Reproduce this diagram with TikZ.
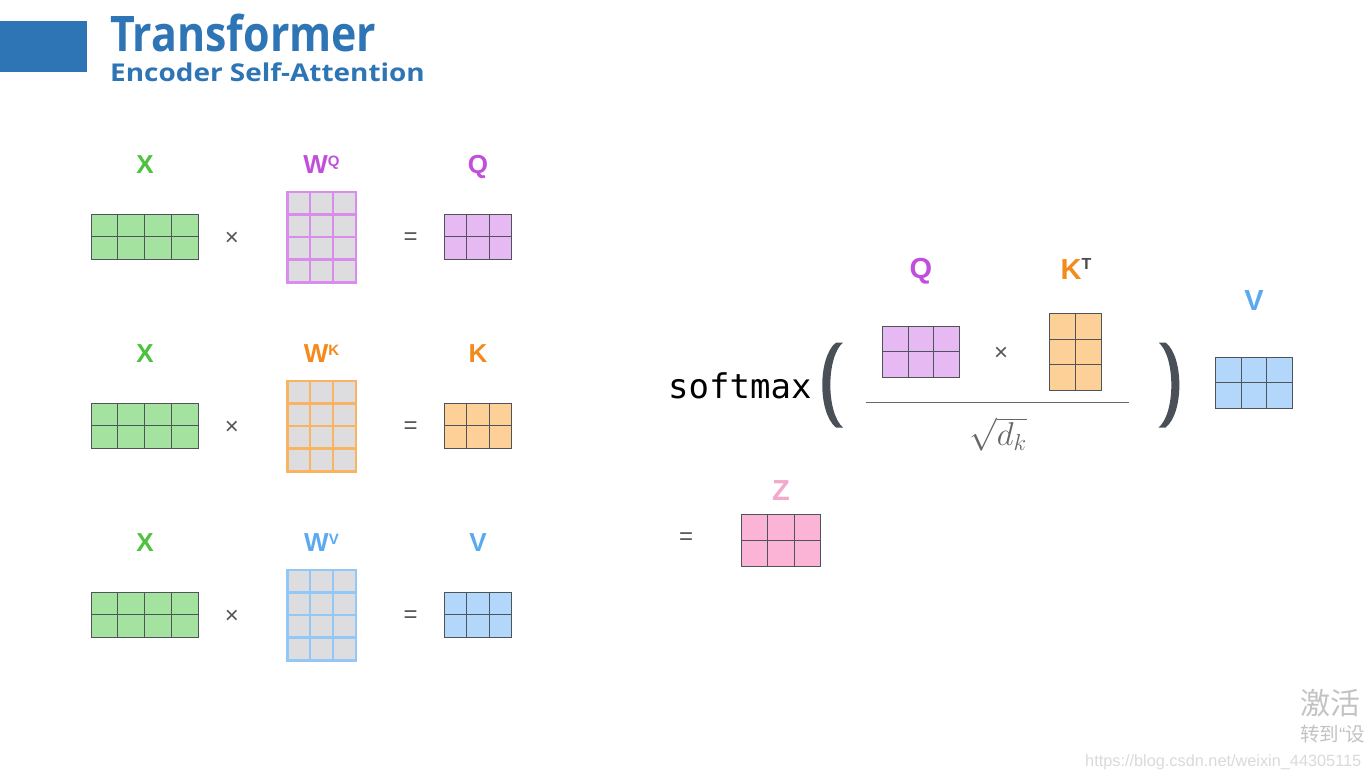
\RequirePackage{fix-cm}
\documentclass[tikz,border=0pt]{standalone}
\usepackage{xcolor}
\usepackage{amsmath}
\usepackage{fontspec}
\setmainfont{Liberation Sans}
\newfontfamily\titlefont{Open Sans}[FakeStretch=0.875]
\newfontfamily\subtitlefont{Open Sans}[FakeStretch=1.14]
\newfontfamily\codefont{DejaVu Sans Mono}
\newfontfamily\cjkfont{Noto Sans CJK SC}
\usepackage{tikz}
\usetikzlibrary{calc}
\definecolor{headblue}{HTML}{2E75B6}
\definecolor{xgreen}{HTML}{4DC23E}
\definecolor{xfill}{HTML}{A3E29F}
\definecolor{qviolet}{HTML}{C24FDC}
\definecolor{qfill}{HTML}{E6B9F3}
\definecolor{qline}{HTML}{D98CEC}
\definecolor{korange}{HTML}{F58A1C}
\definecolor{kfill}{HTML}{FDD098}
\definecolor{kline}{HTML}{F8B462}
\definecolor{vblue}{HTML}{5AA9F1}
\definecolor{vfill}{HTML}{B3D7FA}
\definecolor{vline}{HTML}{93C7F5}
\definecolor{zpink}{HTML}{F5A8CE}
\definecolor{zfill}{HTML}{FBB3D6}
\definecolor{wgray}{HTML}{DDDDDF}
\definecolor{matline}{HTML}{4F535A}
\definecolor{opgray}{HTML}{555555}
\definecolor{parengray}{HTML}{4A5058}
\definecolor{fracgray}{HTML}{666666}
\definecolor{tgray}{HTML}{4A4A4A}
\definecolor{markgray}{HTML}{C3C3C3}
\definecolor{urlgray}{HTML}{DADADA}
\newcommand\wsup[2]{\raisebox{#1pt}{\fontsize{15}{15}\selectfont #2}}

\tikzset{
  cell line/.style={draw=matline,line width=0.9pt},
  mat/.style 2 args={rectangle,inner sep=0pt,outer sep=0pt,minimum width=#1,minimum height=#2,draw=matline,line width=0.9pt},
  cells/.style 2 args={path picture={
    \pgfmathtruncatemacro\nc{#1-1}
    \pgfmathtruncatemacro\nr{#2-1}
    \foreach \i in {1,...,\nc}
      \draw[cell line] ($(path picture bounding box.north west)!\i/#1!(path picture bounding box.north east)$) -- ($(path picture bounding box.south west)!\i/#1!(path picture bounding box.south east)$);
    \foreach \j in {1,...,\nr}
      \draw[cell line] ($(path picture bounding box.north west)!\j/#2!(path picture bounding box.south west)$) -- ($(path picture bounding box.north east)!\j/#2!(path picture bounding box.south east)$);
  }},
  wmat/.style={fill=wgray,draw=#1,line width=2.4pt,cell line/.style={draw=#1,line width=2.4pt}},
  lbl/.style={inner sep=0pt,anchor=base,font=\fontsize{26}{26}\selectfont\bfseries},
  biglbl/.style={inner sep=0pt,anchor=base,font=\fontsize{29}{29}\selectfont\bfseries},
  op/.style={inner sep=0pt,text=opgray,font=\fontsize{24}{24}\selectfont},
  paren/.style={fill=parengray}
}

\begin{document}
\begin{tikzpicture}[x=1pt,y=-1pt]
\useasboundingbox[fill=white] (0,0) rectangle (1365,780);
% heading
\fill[headblue] (0,20.5) rectangle (87,72.3);
\node[inner sep=0pt,anchor=base west,text=headblue,font=\titlefont\bfseries\fontsize{49}{49}\selectfont] (title) at (110,51) {Transformer};
\node[inner sep=0pt,anchor=base west,text=headblue,font=\subtitlefont\bfseries\fontsize{24.5}{24.5}\selectfont] (subtitle) at (110,81.7) {Encoder Self-Attention};

% query row
\node[lbl,text=xgreen] (xlq) at (145,173) {X};
\node[mat={107}{44.8},fill=xfill,cells={4}{2}] (xq) at (144.5,236.7) {};
\node[op] (tq) at (232,238.5) {×};
\node[lbl,text=qviolet] (wlq) at (321.5,173) {W\wsup{7}{Q}};
\node[mat={68.4}{90.6},wmat=qline,cells={3}{4}] (wq) at (321.5,237) {};
\node[op] (eq) at (410.7,238.5) {=};
\node[lbl,text=qviolet] (qlq) at (478,173) {Q};
\node[mat={67.4}{45}, fill=qfill,cells={3}{2}] (qq) at (478,236.7) {};

% key row
\node[lbl,text=xgreen] (xlk) at (145,362) {X};
\node[mat={107}{44.8},fill=xfill,cells={4}{2}] (xk) at (144.5,425.7) {};
\node[op] (tk) at (232,427.5) {×};
\node[lbl,text=korange] (wlk) at (321.5,362) {W\wsup{7}{K}};
\node[mat={68.4}{90.6},wmat=kline,cells={3}{4}] (wk) at (321.5,426) {};
\node[op] (ek) at (410.7,427.5) {=};
\node[lbl,text=korange] (klk) at (478,362) {K};
\node[mat={67.4}{45}, fill=kfill,cells={3}{2}] (kk) at (478,425.7) {};

% value row
\node[lbl,text=xgreen] (xlv) at (145,551) {X};
\node[mat={107}{44.8},fill=xfill,cells={4}{2}] (xv) at (144.5,614.7) {};
\node[op] (tv) at (232,616.5) {×};
\node[lbl,text=vblue] (wlv) at (321.5,551) {W\wsup{7}{V}};
\node[mat={68.4}{90.6},wmat=vline,cells={3}{4}] (wv) at (321.5,615) {};
\node[op] (ev) at (410.7,616.5) {=};
\node[lbl,text=vblue] (vlv) at (478,551) {V};
\node[mat={67.4}{45}, fill=vfill,cells={3}{2}] (vv) at (478,614.7) {};

% attention
\node[inner sep=0pt,anchor=base west,font=\codefont\fontsize{34}{34}\selectfont] (softmax) at (668,398.3) {softmax};
\fill[paren] (836,342.5) .. controls (817.7,357) and (817.7,413) .. (836,427.5) -- (843,427.5) .. controls (826.1,413) and (826.1,357) .. (843,342.5) -- cycle;
\node[biglbl,text=qviolet] (qla) at (921,278) {Q};
\node[mat={77.4}{51},fill=qfill,cells={3}{2}] (qa) at (921,351.8) {};
\node[op] (ta) at (1001,354.3) {×};
\node[biglbl,text=korange] (kla) at (1076,279) {K\wsup{10}{\textcolor{tgray}{\fontsize{16}{16}\selectfont T}}};
\node[mat={52.4}{77},fill=kfill,cells={2}{3}] (ka) at (1075.5,351.8) {};
\coordinate (fracl) at (866,402.7);
\coordinate (fracr) at (1129,402.7);
\draw[fracgray,line width=1.5pt] (fracl) -- (fracr);
\node[inner sep=0pt,text=fracgray,font=\fontsize{33}{33}\selectfont] (dk) at (998,434.5) {$\sqrt{d_k}$};
\fill[paren] (1165.65,342.5) .. controls (1183.95,357) and (1183.95,413) .. (1165.65,427.5) -- (1158.65,427.5) .. controls (1175.55,413) and (1175.55,357) .. (1158.65,342.5) -- cycle;
\node[biglbl,text=vblue] (vla) at (1254,310) {V};
\node[mat={77.4}{51},fill=vfill,cells={3}{2}] (va) at (1254,382.8) {};
\node[op] (ez) at (686,539) {=};
\node[biglbl,text=zpink] (zlz) at (781,500.7) {Z};
\node[mat={79.4}{51.7},fill=zfill,cells={3}{2}] (zz) at (781,540.2) {};

% watermark
\node[inner sep=0pt,anchor=base west,text=markgray,font=\cjkfont\fontsize{30}{30}\selectfont] (act) at (1300,714) {激活};
\node[inner sep=0pt,anchor=base west,text=markgray,font=\cjkfont\fontsize{19.5}{19.5}\selectfont] (goto) at (1300,741) {转到{\rmfamily“}设};
\node[inner sep=0pt,anchor=base west,text=urlgray,font=\fontsize{16.3}{16.3}\selectfont] (url) at (1085,766.7) {https://blog.csdn.net/weixin\_44305115};
\end{tikzpicture}
\end{document}
